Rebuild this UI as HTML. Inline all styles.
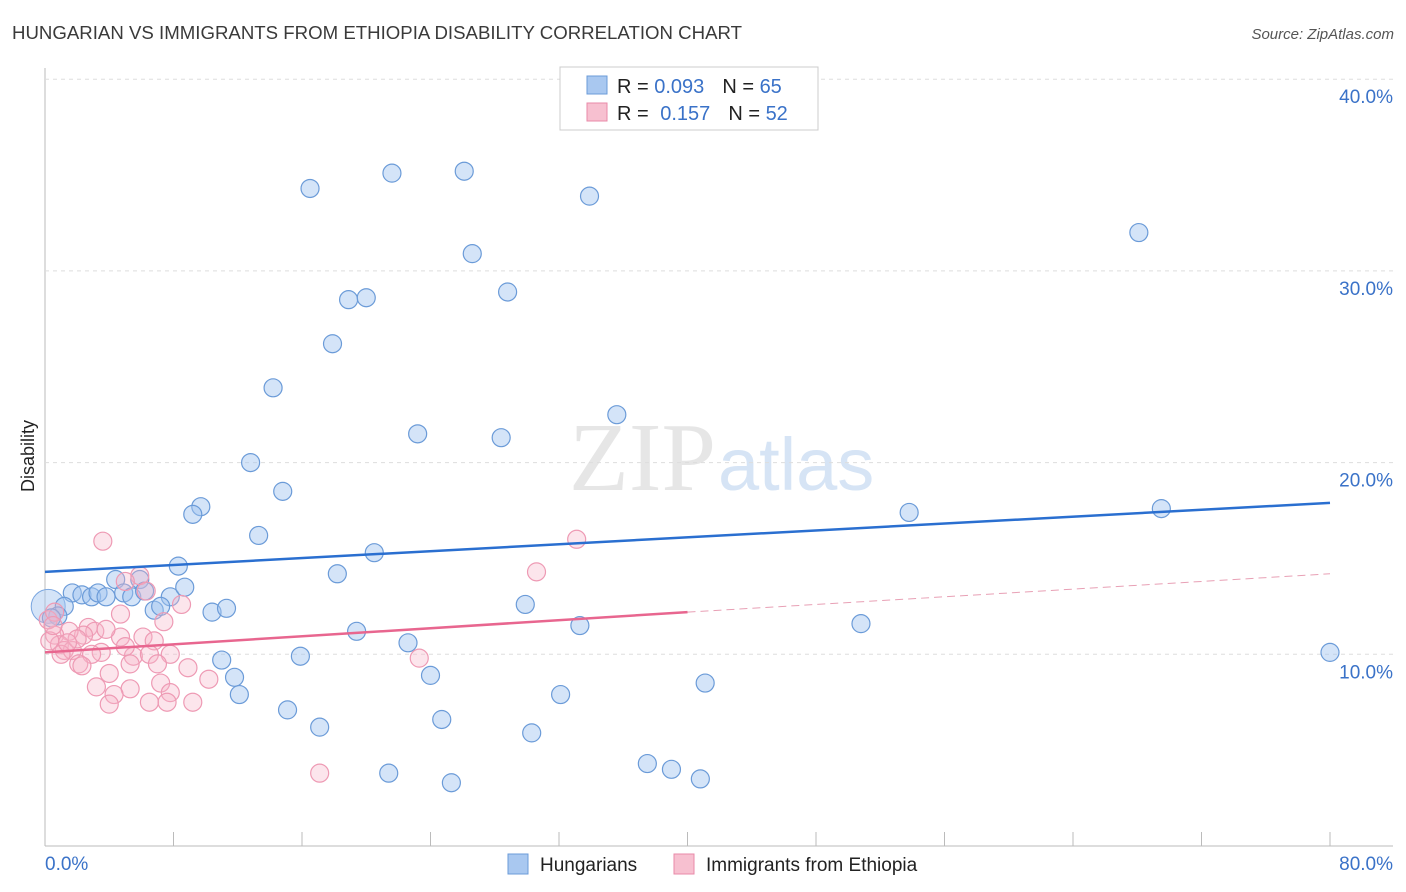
<!DOCTYPE html>
<html><head><meta charset="utf-8"><style>
body{margin:0;background:#fff;font-family:"Liberation Sans",sans-serif;}
svg{display:block}
</style></head><body>
<svg id="c" width="1406" height="892" xmlns="http://www.w3.org/2000/svg">
<text x="12" y="39" font-size="18" fill="#3a3a3a" textLength="730" lengthAdjust="spacingAndGlyphs">HUNGARIAN VS IMMIGRANTS FROM ETHIOPIA DISABILITY CORRELATION CHART</text>
<text x="1394" y="39" font-size="15" fill="#555" font-style="italic" text-anchor="end">Source: ZipAtlas.com</text>
<text x="716" y="490" font-size="98" fill="#e6e6e6" text-anchor="end" font-family="Liberation Serif,serif">ZIP</text>
<text x="718" y="490" font-size="74" fill="#d6e4f5">atlas</text>
<text x="34" y="456" font-size="18" fill="#222" text-anchor="middle" transform="rotate(-90 34 456)">Disability</text>
<g id="grid"></g><g id="marks"></g>
<g>
<rect x="560" y="67" width="258" height="63" fill="#fff" stroke="#ccc"/>
<rect x="587" y="76" width="20" height="18" fill="#a9c8f0" stroke="#6b9bd8"/>
<rect x="587" y="103" width="20" height="18" fill="#f7c0d0" stroke="#e88aa8"/>
<text x="617" y="93" font-size="20" fill="#222">R = <tspan fill="#3a72c8">0.093</tspan><tspan dx="18">N = </tspan><tspan fill="#3a72c8">65</tspan></text>
<text x="617" y="120" font-size="20" fill="#222">R = <tspan dx="6" fill="#3a72c8">0.157</tspan><tspan dx="18">N = </tspan><tspan fill="#3a72c8">52</tspan></text>
</g>
<g>
<rect x="508" y="854" width="20" height="20" fill="#a9c8f0" stroke="#6b9bd8"/>
<text x="540" y="871" font-size="19" fill="#222">Hungarians</text>
<rect x="674" y="854" width="20" height="20" fill="#f7c0d0" stroke="#e88aa8"/>
<text x="706" y="871" font-size="19" fill="#222">Immigrants from Ethiopia</text>
</g>
</svg>
<script>
const yTicks=[10,20,30,40];
const yTickLabels=["10.0%","20.0%","30.0%","40.0%"];
const xTickLabels=["0.0%","80.0%"];
const blueX=[16.5,21.6,26.1,33.9,68.1,26.6,28.8,18.9,20.0,17.9,14.2,35.6,23.2,28.4,12.8,14.8,9.7,9.2,53.8,69.5,13.3,20.5,8.3,18.2,4.4,5.9,1.7,2.3,2.9,3.3,3.8,4.9,5.4,6.2,7.8,8.7,1.2,6.8,7.2,10.4,11.3,29.9,0.8,0.4,33.3,50.8,19.4,22.6,80.0,15.9,11.0,11.8,24.0,41.1,12.1,32.1,15.1,24.7,17.1,30.3,21.4,25.3,37.5,39.0,40.8];
const blueY=[34.3,35.1,35.2,33.9,32.0,30.9,28.9,28.5,28.6,26.2,23.9,22.5,21.5,21.3,20.0,18.5,17.7,17.3,17.4,17.6,16.2,15.3,14.6,14.2,13.9,13.9,13.2,13.1,13.0,13.2,13.0,13.2,13.0,13.3,13.0,13.5,12.5,12.3,12.5,12.2,12.4,12.6,12.0,11.9,11.5,11.6,11.2,10.6,10.1,9.9,9.7,8.8,8.9,8.5,7.9,7.9,7.1,6.6,6.2,5.9,3.8,3.3,4.3,4.0,3.5];
const pinkX=[3.6,33.1,30.6,5.9,5.0,6.3,8.5,4.7,7.4,2.7,3.1,2.4,1.5,4.7,6.1,6.8,0.6,0.9,0.3,1.2,1.7,3.5,2.9,5.5,6.5,7.8,2.1,2.3,5.3,7.0,8.9,4.0,10.2,3.2,7.2,5.3,4.3,7.8,6.5,7.6,9.2,4.0,23.3,17.1,0.2,0.6,2.0,1.0,3.8,5.0,1.4,0.5];
const pinkY=[15.9,16.0,14.3,14.1,13.8,13.3,12.6,12.1,11.7,11.4,11.2,11.0,11.2,10.9,10.9,10.7,11.0,10.5,10.7,10.2,10.2,10.1,10.0,9.9,10.0,10.0,9.5,9.4,9.5,9.5,9.3,9.0,8.7,8.3,8.5,8.2,7.9,8.0,7.5,7.5,7.5,7.4,9.8,3.8,11.8,12.2,10.8,10.0,11.3,10.4,10.6,11.5];
const blueTrend=[14.3,17.9];
const pinkTrend=[10.1,12.2,14.2];
const X=v=>45+v*(1330-45)/80;
const Y=v=>846-v*19.17;
const NS="http://www.w3.org/2000/svg";
function mk(t,a,p){const e=document.createElementNS(NS,t);for(const k in a)e.setAttribute(k,a[k]);p.appendChild(e);return e;}
const g=document.getElementById('grid'),m=document.getElementById('marks');
mk('line',{x1:45,y1:68,x2:45,y2:846,stroke:'#bbb'},g);
mk('line',{x1:45,y1:846,x2:1393,y2:846,stroke:'#bbb'},g);
for(let i=0;i<=10;i++){const l=mk('line',{x1:X(i*8),y1:832,x2:X(i*8),y2:846,stroke:'#bbb'},g);

}
yTicks.forEach((t,i)=>{const l=mk('line',{x1:45,y1:Y(t),x2:1393,y2:Y(t),stroke:'#ddd','stroke-dasharray':'4,4'},g);


const tx=mk('text',{x:1393,y:Y(t)+24,'font-size':19,fill:'#3a72c8','text-anchor':'end'},g);tx.textContent=yTickLabels[i];

});
xTickLabels.forEach((s,i)=>{const tx=mk('text',{x:i?1393:45,y:870,'font-size':19,fill:'#3a72c8','text-anchor':i?'end':'start'},g);tx.textContent=s;

});
const big=mk('circle',{cx:X(0.2),cy:Y(12.5),r:17,fill:'rgba(160,196,240,0.45)',stroke:'#7aa6e0','stroke-width':1},m);


blueX.forEach((v,i)=>{const c=mk('circle',{cx:X(v),cy:Y(blueY[i]),r:9,fill:'rgba(160,196,240,0.45)',stroke:'#6b9bd8','stroke-width':1.2},m);

});
pinkX.forEach((v,i)=>{const c=mk('circle',{cx:X(v),cy:Y(pinkY[i]),r:9,fill:'rgba(246,180,200,0.35)',stroke:'#ee9ab4','stroke-width':1.2},m);

});
const bt=mk('line',{x1:X(0),y1:Y(blueTrend[0]),x2:X(80),y2:Y(blueTrend[1]),stroke:'#2a6fd0','stroke-width':2.5},m);


const pt=mk('line',{x1:X(0),y1:Y(pinkTrend[0]),x2:X(40),y2:Y(pinkTrend[1]),stroke:'#e8668f','stroke-width':2.5},m);


const pd=mk('line',{x1:X(40),y1:Y(pinkTrend[1]),x2:X(80),y2:Y(pinkTrend[2]),stroke:'#e8a0b5','stroke-width':1,'stroke-dasharray':'8,5'},m);


</script>
</body></html>
